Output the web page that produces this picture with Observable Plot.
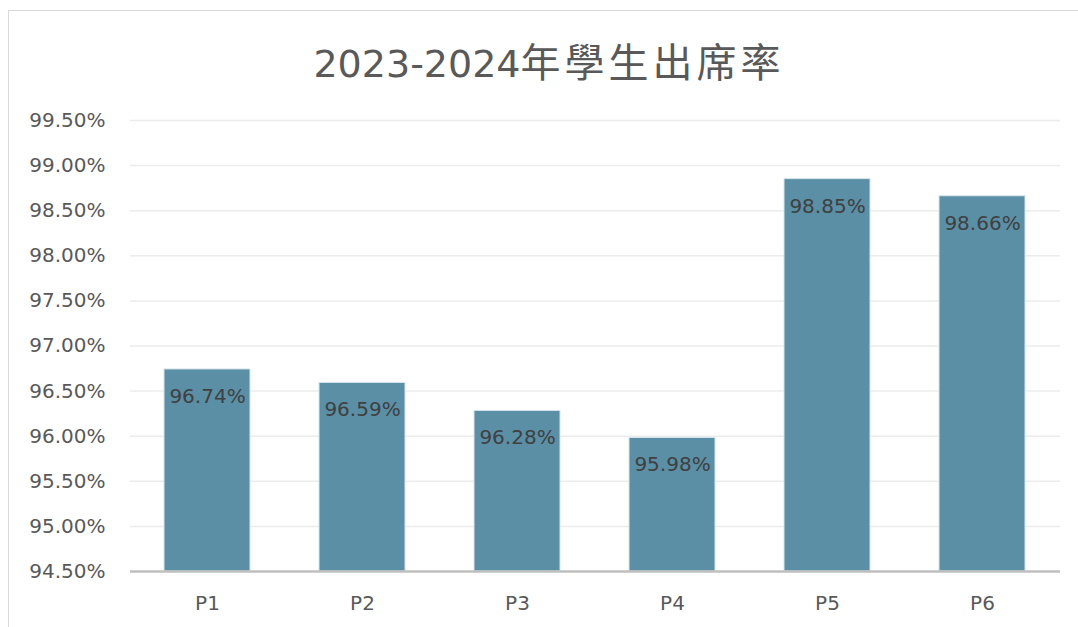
<!DOCTYPE html>
<html>
<head>
<meta charset="utf-8">
<script src="https://cdn.jsdelivr.net/npm/d3@7"></script>
<script src="https://cdn.jsdelivr.net/npm/@observablehq/plot@0.6"></script>
<style>
  html, body { margin: 0; padding: 0; background: #fff; overflow: hidden; }
  #wrap { position: relative; width: 1078px; height: 627px; }
  #border { position: absolute; left: 8px; top: 10px; width: 1100px; height: 650px; border: 1.5px solid #d9d9d9; box-sizing: border-box; }
  #title { position: absolute; left: 0; top: 40px; width: 1098px; text-align: center; line-height: 40px; color: #595959; white-space: nowrap; }
  #title .a { font-family: "DejaVu Sans", sans-serif; font-size: 38px; }
  #title .b { font-family: "Noto Sans CJK TC", sans-serif; font-size: 40px; letter-spacing: 4px; }
  #chart { position: absolute; left: 0; top: 0; }
</style>
</head>
<body>
<div id="wrap">
  <div id="border"></div>
  <div id="chart"></div>
  <div id="title"><span class="a">2023-2024</span><span class="b">年學生出席率</span></div>
</div>
<script>
const categories = ["P1", "P2", "P3", "P4", "P5", "P6"];
const rates = [0.9674, 0.9659, 0.9628, 0.9598, 0.9885, 0.9866];
const yTicks = [0.945, 0.95, 0.955, 0.96, 0.965, 0.97, 0.975, 0.98, 0.985, 0.99, 0.995];
const yMin = 0.945, yMax = 0.995;

const data = categories.map((c, i) => ({ cat: c, v: rates[i] }));
const fmt = d3.format(".2%");

const chart = Plot.plot({
  width: 1078,
  height: 627,
  marginTop: 120,
  marginBottom: 56,
  marginLeft: 130,
  marginRight: 18,
  style: { background: "transparent", fontFamily: "DejaVu Sans, sans-serif" },
  x: { domain: categories, paddingInner: 0.445, paddingOuter: 0.2225, label: null },
  y: { domain: [yMin, yMax], label: null },
  marks: [
    Plot.gridY(yTicks.slice(1), { stroke: "#ececec", strokeOpacity: 1, strokeWidth: 1.5 }),
    Plot.axisY(yTicks, { tickSize: 0, tickPadding: 25, tickFormat: fmt, fontSize: 20, fill: "#595959", label: null }),
    Plot.axisX({ tickSize: 0, tickPadding: 24, fontSize: 20, fill: "#595959", label: null }),
    Plot.barY(data, { x: "cat", y1: () => yMin, y2: "v", fill: "#5a8fa6", stroke: "#d6e5ec", strokeWidth: 1 }),
    Plot.ruleY([yMin], { stroke: "#bfbfbf", strokeWidth: 2.5 }),
    Plot.text(data, { x: "cat", y: "v", text: d => fmt(d.v), dy: 27, fontSize: 20, fill: "#404040", lineAnchor: "middle" })
  ]
});
document.getElementById("chart").appendChild(chart);
</script>
</body>
</html>
